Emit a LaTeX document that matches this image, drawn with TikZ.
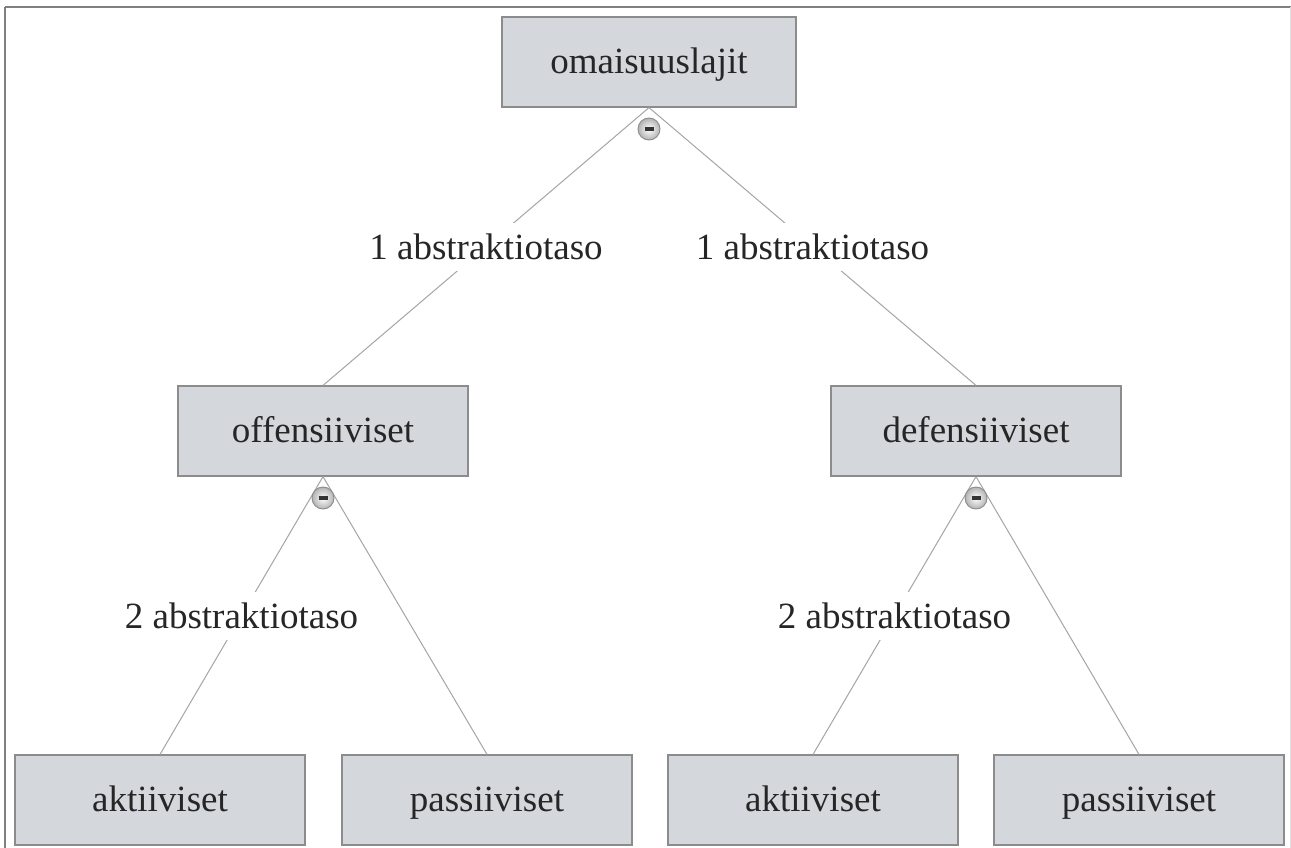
\documentclass[tikz,border=0pt]{standalone}
\usepackage{fontspec}
\setmainfont{Liberation Serif}
\definecolor{boxfill}{RGB}{212,216,221}
\definecolor{boxline}{RGB}{140,140,140}
\definecolor{edgeline}{RGB}{165,165,165}
\definecolor{framec}{RGB}{128,128,128}
\tikzset{
  cls/.style={draw=boxline, line width=1.2pt, fill=boxfill, minimum width=290pt, minimum height=90pt, inner sep=0pt, text height=27pt, text depth=4pt, font=\fontsize{37}{40}\selectfont, text=black!85},
  conn/.style={draw=edgeline, line width=1pt},
  lbl/.style={fill=white, inner xsep=2pt, inner ysep=0pt, text height=37pt, text depth=11pt, font=\fontsize{37}{40}\selectfont, text=black!85},
  disj/.style={circle, draw=gray!90, line width=0.9pt, inner color=white, outer color=gray!60, minimum size=22pt, inner sep=0pt}
}
\begin{document}
\begin{tikzpicture}[x=1pt,y=-1pt]
\useasboundingbox (0,0) rectangle (1291,848);
\fill[white] (0,0) rectangle (1291,848);
% frame
\draw[framec, line width=2pt] (5,7) -- (1291,7);
\draw[framec, line width=1.5pt] (5,7) -- (5,848);
\draw[gray!25, line width=1pt] (1290,7) -- (1290,848);
% nodes
\node[cls, minimum width=294pt] (root) at (649,62) {omaisuuslajit};
\node[cls] (off) at (323,431) {offensiiviset};
\node[cls] (def) at (976,431) {defensiiviset};
\node[cls] (akt1) at (160,800) {aktiiviset};
\node[cls] (pas1) at (487,800) {passiiviset};
\node[cls] (akt2) at (813,800) {aktiiviset};
\node[cls] (pas2) at (1139,800) {passiiviset};
% connectors
\draw[conn] (root.south) -- node[lbl] {1 abstraktiotaso} (off.north);
\draw[conn] (root.south) -- node[lbl] {1 abstraktiotaso} (def.north);
\draw[conn] (off.south) -- node[lbl] {2 abstraktiotaso} (akt1.north);
\draw[conn] (off.south) -- (pas1.north);
\draw[conn] (def.south) -- node[lbl] {2 abstraktiotaso} (akt2.north);
\draw[conn] (def.south) -- (pas2.north);
% disjointness markers
\node[disj] (d1) at (649,129) {};
\node[disj] (d2) at (323,498) {};
\node[disj] (d3) at (976,498) {};
\foreach \d in {d1,d2,d3}{
  \draw[black!80, line width=3.5pt] ([xshift=-4.5pt]\d.center) -- ([xshift=4.5pt]\d.center);
}
\end{tikzpicture}
\end{document}
